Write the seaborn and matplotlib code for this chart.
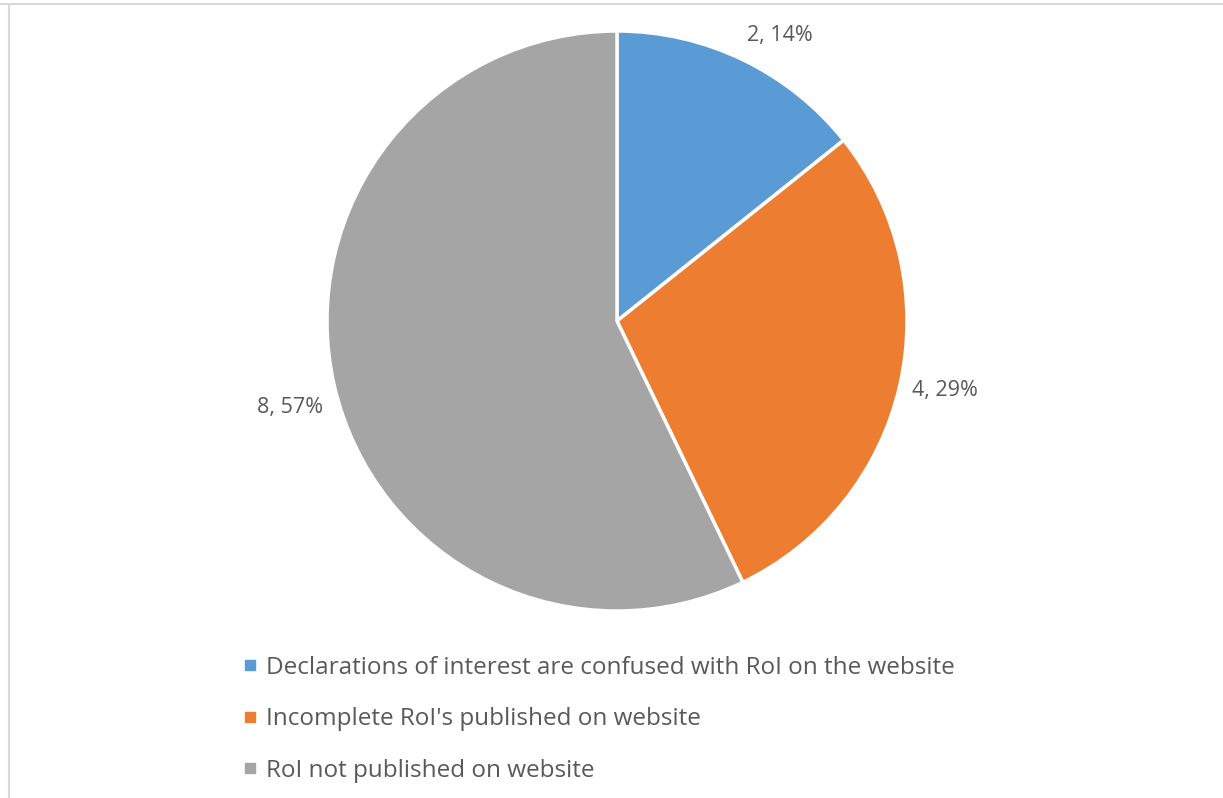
import matplotlib
matplotlib.use("Agg")
import matplotlib.pyplot as plt
import seaborn as sns
from matplotlib.lines import Line2D

categories = ["Declarations of interest are confused with RoI on the website",
              "Incomplete RoI's published on website",
              "RoI not published on website"]
values = [2, 4, 8]
colors = ["#5B9BD5", "#ED7D31", "#A5A5A5"]
# label anchor positions (in pie radii) as placed in the reference
label_pos = [(0.562, 0.986), (1.131, -0.238), (-1.128, -0.300)]

sns.set_theme(style="white")
plt.rcParams['font.family'] = ['Open Sans', 'DejaVu Sans']

W, H = 1223, 798
fig = plt.figure(figsize=(W / 100, H / 100), dpi=100)
cx, cy, r = 617, 321, 290
ax = fig.add_axes([(cx - r) / W, (H - cy - r) / H, 2 * r / W, 2 * r / H])

total = sum(values)
labels = [f"{v}, {v / total * 100:.0f}%" for v in values]

wedges, texts = ax.pie(values, colors=colors, startangle=90, counterclock=False,
                       radius=1, wedgeprops=dict(edgecolor="white", linewidth=2.5),
                       labels=labels, labeldistance=1.15,
                       textprops=dict(fontsize=15.5, color="#595959"))
for t, p in zip(texts, label_pos):
    t.set_position(p)
    t.set_ha("center")
    t.set_va("center")
ax.set_xlim(-1, 1)
ax.set_ylim(-1, 1)
ax.set_aspect("equal")
ax.axis("off")

handles = [Line2D([0], [0], marker="s", linestyle="none", markersize=7,
                  markerfacecolor=c, markeredgecolor=c) for c in colors]
fig.legend(handles, categories, loc="upper left", bbox_to_anchor=(232 / W, 1 - 646 / H),
           frameon=False, fontsize=17.5, labelcolor="#595959", handlelength=0.7,
           handletextpad=0.3, labelspacing=1.13, borderaxespad=0)

# outer frame lines
fig.add_artist(Line2D([0, 1], [1 - 4 / H, 1 - 4 / H], transform=fig.transFigure, color="#D9D9D9", lw=1.5))
fig.add_artist(Line2D([8.5 / W, 8.5 / W], [0, 1 - 4 / H], transform=fig.transFigure, color="#D9D9D9", lw=1.5))

fig.savefig("out.png", dpi=100)
